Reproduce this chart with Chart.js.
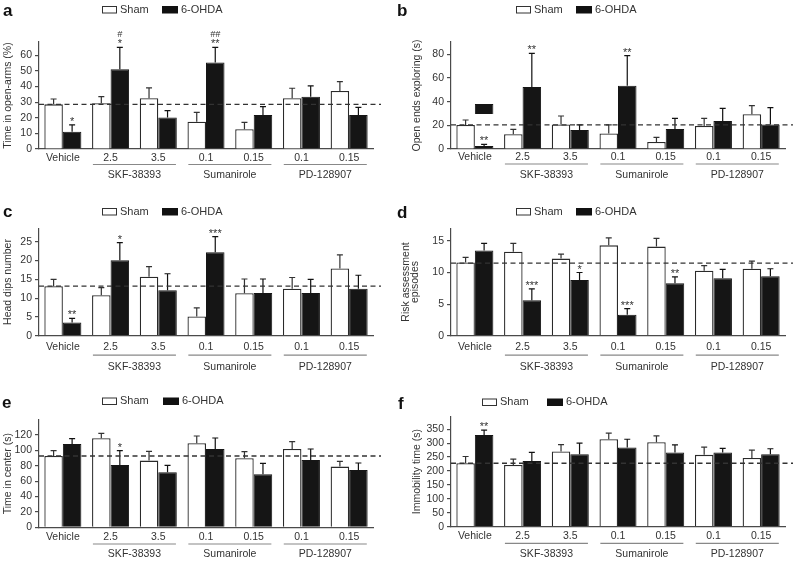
<!DOCTYPE html>
<html><head><meta charset="utf-8">
<script src="https://cdn.jsdelivr.net/npm/chart.js@4.4.0/dist/chart.umd.min.js"></script>
<style>
html,body{margin:0;padding:0;background:#fff;}
#wrap{position:relative;width:793px;height:561px;overflow:hidden;background:#fff;}
canvas{position:absolute;}
</style></head><body><div id="wrap">
<canvas id="ca" width="396" height="186" style="left:0;top:0"></canvas>
<canvas id="cb" width="396" height="186" style="left:397px;top:0"></canvas>
<canvas id="cc" width="396" height="186" style="left:0;top:186px"></canvas>
<canvas id="cd" width="396" height="186" style="left:397px;top:186px"></canvas>
<canvas id="ce" width="396" height="189" style="left:0;top:372px"></canvas>
<canvas id="cf" width="396" height="189" style="left:397px;top:372px"></canvas>
</div>
<script>
// ---------- data ----------
const categories = ['Vehicle', '2.5', '3.5', '0.1', '0.15', '0.1', '0.15'];
const groupNames = ['SKF-38393', 'Sumanirole', 'PD-128907'];
const groupFrom = [1, 3, 5];
const groupTo = [2, 4, 6];
const seriesNames = ['Sham', '6-OHDA'];

// a: Time in open-arms (%)
const aSham = [28.6, 29.3, 32.5, 17.5, 12.6, 32.5, 37.2];
const aShamSem = [3.4, 4.2, 6.6, 6.0, 4.5, 6.4, 5.9];
const aOhda = [11.1, 51.0, 20.1, 55.3, 21.8, 33.5, 21.8];
const aOhdaSem = [4.3, 14.1, 4.5, 9.8, 5.3, 6.9, 4.9];
const aRef = 28.6;
const aTicks = [0, 10, 20, 30, 40, 50, 60];
const aMarks = [[0, 1, '*', ''], [1, 1, '*', '#'], [3, 1, '**', '##']];

// b: Open ends exploring (s)
const bSham = [20.3, 12.4, 20.8, 13.2, 5.9, 19.4, 29.3];
const bShamSem = [4.2, 4.2, 7.1, 7.1, 4.0, 6.5, 7.3];
const bOhda = [2.5, 52.4, 16.1, 53.5, 16.9, 23.7, 20.8];
const bOhdaSem = [1.4, 28.4, 4.2, 25.4, 9.0, 10.7, 14.1];
const bArtifact = [[29.6, 38.0], null, null, null, null, null, null];
const bRef = 20.3;
const bTicks = [0, 20, 40, 60, 80];
const bMarks = [[0, 1, '**', ''], [1, 1, '**', ''], [3, 1, '**', '']];

// c: Head dips number
const cSham = [13.2, 10.8, 15.7, 5.1, 11.3, 12.5, 17.9];
const cShamSem = [1.8, 2.0, 2.7, 2.3, 3.8, 3.0, 3.6];
const cOhda = [3.5, 20.1, 12.1, 22.2, 11.4, 11.4, 12.5];
const cOhdaSem = [1.1, 4.7, 4.4, 4.2, 3.7, 3.6, 3.6];
const cRef = 13.2;
const cTicks = [0, 5, 10, 15, 20, 25];
const cMarks = [[0, 1, '**', ''], [1, 1, '*', ''], [3, 1, '***', '']];

// d: Risk assessment episodes
const dSham = [11.6, 13.3, 12.2, 14.3, 14.1, 10.3, 10.6];
const dShamSem = [0.8, 1.3, 0.7, 1.2, 1.3, 0.8, 1.2];
const dOhda = [13.5, 5.6, 8.8, 3.3, 8.3, 9.1, 9.4];
const dOhdaSem = [1.1, 1.8, 1.2, 1.0, 1.0, 1.4, 1.2];
const dRef = 11.5;
const dTicks = [0, 5, 10, 15];
const dMarks = [[1, 1, '***', ''], [2, 1, '*', ''], [3, 1, '***', ''], [4, 1, '**', '']];

// e: Time in center (s)
const eSham = [92.7, 115.7, 86.7, 109.2, 89.7, 101.8, 78.9];
const eShamSem = [7.0, 6.5, 12.1, 9.5, 8.7, 9.6, 6.9];
const eOhda = [108.3, 81.0, 71.5, 101.8, 68.9, 87.5, 74.5];
const eOhdaSem = [7.0, 18.7, 9.1, 14.3, 14.3, 14.3, 9.1];
const eRef = 92.7;
const eTicks = [0, 20, 40, 60, 80, 100, 120];
const eMarks = [[1, 1, '*', '']];

// f: Immobility time (s)
const fSham = [228, 222, 270, 314, 303, 258, 247];
const fShamSem = [24, 21, 25, 22, 23, 28, 28];
const fOhda = [329, 236, 260, 284, 266, 266, 260];
const fOhdaSem = [18, 31, 40, 30, 28, 15, 20];
const fRef = 227.8;
const fTicks = [0, 50, 100, 150, 200, 250, 300, 350];
const fMarks = [[0, 1, '**', '']];

// ---------- drawing ----------
const F = '"Liberation Sans", Arial, Helvetica, sans-serif';
const TXT = '#333';
const AX = '#4a4a4a';

function panelPlugin(P) {
  return {
    id: 'panel_' + P.letter,
    afterDatasetsDraw(chart) {
      const {ctx, chartArea: A, scales: {x, y}} = chart;
      ctx.save();
      const vals = [P.sham, P.ohda], sems = [P.shamSem, P.ohdaSem];
      const tops = [[], []];
      for (let i = 0; i < 2; i++) {
        const meta = chart.getDatasetMeta(i);
        ctx.strokeStyle = i === 0 ? '#333' : '#111';
        ctx.lineWidth = 1.2;
        meta.data.forEach((el, j) => {
          const yt = y.getPixelForValue(vals[i][j] + sems[i][j]);
          tops[i][j] = {x: el.x, y: yt};
          ctx.beginPath();
          ctx.moveTo(el.x, el.y); ctx.lineTo(el.x, yt);
          ctx.moveTo(el.x - 3, yt); ctx.lineTo(el.x + 3, yt);
          ctx.stroke();
        });
      }
      // dashed reference line
      const yr = y.getPixelForValue(P.ref);
      ctx.setLineDash([5, 3.5]);
      ctx.strokeStyle = '#333'; ctx.lineWidth = 1.3;
      ctx.beginPath(); ctx.moveTo(A.left, yr); ctx.lineTo(A.right + 8, yr); ctx.stroke();
      ctx.setLineDash([]);
      // significance marks
      ctx.fillStyle = TXT; ctx.textAlign = 'center'; ctx.textBaseline = 'alphabetic';
      P.marks.forEach(m => {
        const t = tops[m[1]][m[0]];
        ctx.font = '11px ' + F;
        ctx.fillText(m[2], t.x, t.y);
        if (m[3]) { ctx.font = 'italic 9px ' + F; ctx.fillText(m[3], t.x, t.y - 10); }
      });
      ctx.restore();
    },
    afterDraw(chart) {
      const {ctx, chartArea: A, scales: {x}} = chart;
      ctx.save();
      // panel letter
      ctx.fillStyle = '#111'; ctx.font = 'bold 17px ' + F;
      ctx.textAlign = 'left'; ctx.textBaseline = 'alphabetic';
      ctx.fillText(P.letter, P.letterX, P.letterY);
      // legend
      const L = P.legend;
      ctx.lineWidth = 1; ctx.strokeStyle = '#333';
      ctx.fillStyle = '#fff';
      ctx.fillRect(L.x, L.y - 3.5, 15, 7); ctx.strokeRect(L.x + 0.5, L.y - 3, 14, 6.5);
      ctx.fillStyle = '#111'; ctx.fillRect(L.x2, L.y - 3.5, 16, 7.5);
      ctx.fillStyle = TXT; ctx.font = '11px ' + F; ctx.textBaseline = 'middle';
      ctx.fillText(seriesNames[0], L.x + 18, L.y);
      ctx.fillText(seriesNames[1], L.x2 + 19, L.y);
      // y-axis title
      ctx.save();
      ctx.translate(0, (A.top + A.bottom) / 2);
      ctx.rotate(-Math.PI / 2);
      ctx.textAlign = 'center'; ctx.textBaseline = 'middle';
      ctx.font = '10.5px ' + F; ctx.fillStyle = TXT;
      P.ytitle.forEach((t, k) => ctx.fillText(t, 0, P.ytitleX[k]));
      ctx.restore();
      // group labels
      const catW = (A.right - A.left) / categories.length;
      const half = catW * 0.37;
      ctx.strokeStyle = '#888'; ctx.lineWidth = 1.2;
      ctx.fillStyle = TXT; ctx.font = '10.5px ' + F;
      ctx.textAlign = 'center'; ctx.textBaseline = 'middle';
      for (let g = 0; g < groupNames.length; g++) {
        const x1 = x.getPixelForValue(groupFrom[g]) - half;
        const x2 = x.getPixelForValue(groupTo[g]) + half;
        const yl = A.bottom + P.below[1];
        ctx.beginPath(); ctx.moveTo(x1, yl); ctx.lineTo(x2, yl); ctx.stroke();
        ctx.fillText(groupNames[g], (x1 + x2) / 2, A.bottom + P.below[2]);
      }
      ctx.restore();
    }
  };
}

function makeChart(P) {
  const cv = document.getElementById(P.id);
  const W = cv.width, H = cv.height;
  const datasets = [
    {label: seriesNames[0], data: P.sham, backgroundColor: '#fff', borderColor: '#2a2a2a', borderWidth: 1.3, stack: 's'},
    {label: seriesNames[1], data: P.ohda, backgroundColor: '#151515', borderColor: '#151515', borderWidth: 1, stack: 'o'}
  ];
  if (P.extra) datasets.push({label: 'extra', data: P.extra, backgroundColor: '#151515', borderColor: '#151515', borderWidth: 1, stack: 'o'});
  const tickSet = P.ticks;
  new Chart(cv, {
    type: 'bar',
    data: {labels: categories, datasets},
    options: {
      responsive: false, animation: false, devicePixelRatio: 1,
      layout: {padding: {left: 0, right: W - P.area.r, top: P.area.t, bottom: 0}},
      plugins: {legend: {display: false}, tooltip: {enabled: false}, title: {display: false}},
      datasets: {bar: {categoryPercentage: 0.776, barPercentage: 1}},
      scales: {
        x: {
          stacked: true, offset: true,
          grid: {display: false, drawTicks: false},
          border: {color: AX, width: 1.2},
          ticks: {font: {family: F, size: 10.5}, color: TXT, padding: P.below[0] - 6, maxRotation: 0, autoSkip: false},
          afterFit: s => { s.height = H - P.area.b; }
        },
        y: {
          stacked: false, min: 0, max: P.max,
          grid: {display: true, drawOnChartArea: false, tickLength: 4, color: AX, lineWidth: 1.2},
          border: {color: AX, width: 1.2},
          ticks: {font: {family: F, size: 10.5}, color: TXT, padding: 3, stepSize: tickSet[1] - tickSet[0]},
          afterBuildTicks: s => { s.ticks = tickSet.map(v => ({value: v})); },
          afterFit: s => { s.width = P.area.l; }
        }
      }
    },
    plugins: [panelPlugin(P)]
  });
}

const rowBelow1 = [8.5, 15.5, 26.5], rowBelow2 = [11, 19.5, 31], rowBelow3 = [9.5, 16.7, 27];

makeChart({id: 'ca', letter: 'a', letterX: 3, letterY: 16, sham: aSham, shamSem: aShamSem, ohda: aOhda, ohdaSem: aOhdaSem,
  ref: aRef, ticks: aTicks, marks: aMarks, max: 68.5, area: {l: 39, t: 42, r: 373, b: 149},
  legend: {x: 102, x2: 162, y: 9.5}, ytitle: ['Time in open-arms (%)'], ytitleX: [8], below: rowBelow1});
makeChart({id: 'cb', letter: 'b', letterX: 0, letterY: 16, sham: bSham, shamSem: bShamSem, ohda: bOhda, ohdaSem: bOhdaSem, extra: bArtifact,
  ref: bRef, ticks: bTicks, marks: bMarks, max: 90.4, area: {l: 54, t: 42, r: 388, b: 149},
  legend: {x: 119, x2: 179, y: 9.5}, ytitle: ['Open ends exploring (s)'], ytitleX: [20], below: [7.5, 15, 26]});
makeChart({id: 'cc', letter: 'c', letterX: 3, letterY: 31, sham: cSham, shamSem: cShamSem, ohda: cOhda, ohdaSem: cOhdaSem,
  ref: cRef, ticks: cTicks, marks: cMarks, max: 28.6, area: {l: 39, t: 42.3, r: 373, b: 149.7},
  legend: {x: 102, x2: 162, y: 25.5}, ytitle: ['Head dips number'], ytitleX: [8], below: rowBelow2});
makeChart({id: 'cd', letter: 'd', letterX: 0, letterY: 32, sham: dSham, shamSem: dShamSem, ohda: dOhda, ohdaSem: dOhdaSem,
  ref: dRef, ticks: dTicks, marks: dMarks, max: 17.0, area: {l: 54, t: 42.3, r: 388, b: 149.7},
  legend: {x: 119, x2: 179, y: 25.5}, ytitle: ['Risk assessment', 'episodes'], ytitleX: [9.5, 18.5], below: rowBelow2});
makeChart({id: 'ce', letter: 'e', letterX: 2, letterY: 36, sham: eSham, shamSem: eShamSem, ohda: eOhda, ohdaSem: eOhdaSem,
  ref: eRef, ticks: eTicks, marks: eMarks, max: 139.5, area: {l: 39, t: 48, r: 373, b: 155.3},
  legend: {x: 102, x2: 163, y: 29}, ytitle: ['Time in center (s)'], ytitleX: [8], below: rowBelow3});
makeChart({id: 'cf', letter: 'f', letterX: 1, letterY: 37, sham: fSham, shamSem: fShamSem, ohda: fOhda, ohdaSem: fOhdaSem,
  ref: fRef, ticks: fTicks, marks: fMarks, max: 395, area: {l: 54, t: 44.7, r: 388, b: 154.7},
  legend: {x: 85, x2: 150, y: 30}, ytitle: ['Immobility time (s)'], ytitleX: [20], below: rowBelow3});
</script>
</body></html>
